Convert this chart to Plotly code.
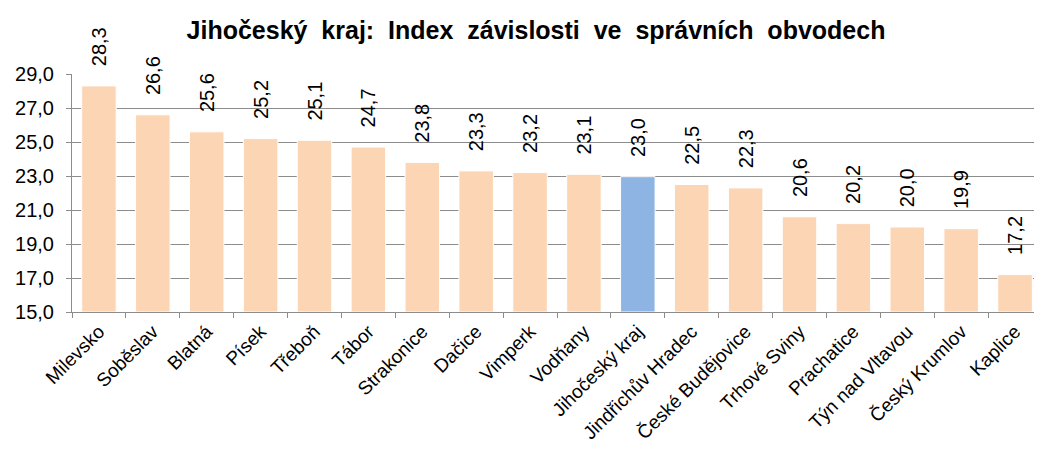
import plotly.graph_objects as go

categories = ["Milevsko", "Soběslav", "Blatná", "Písek", "Třeboň", "Tábor", "Strakonice",
              "Dačice", "Vimperk", "Vodňany", "Jihočeský kraj", "Jindřichův Hradec",
              "České Budějovice", "Trhové Sviny", "Prachatice", "Týn nad Vltavou",
              "Český Krumlov", "Kaplice"]
values = [28.3, 26.6, 25.6, 25.2, 25.1, 24.7, 23.8, 23.3, 23.2, 23.1, 22.96, 22.5, 22.3,
          20.6, 20.2, 20.0, 19.9, 17.2]
highlight = "Jihočeský kraj"
tick_vals = [15, 17, 19, 21, 23, 25, 27, 29]
baseline = 15
title_words = ["Jihočeský", "kraj:", "Index", "závislosti", "ve", "správních", "obvodech"]

colors = ["#8DB4E2" if c == highlight else "#FCD5B5" for c in categories]
labels = ["\u00a0\u00a0\u00a0" + f"{v:.1f}".replace(".", ",") for v in values]
FONT = "Arial, Liberation Sans, sans-serif"

fig = go.Figure(go.Bar(
    x=categories, y=[v - baseline for v in values], base=baseline,
    marker=dict(color=colors, line=dict(color="#FFFFFF", width=1)),
    width=0.64,
    text=labels, textposition="outside", textangle=-90,
    constraintext="none",
    textfont=dict(size=20, color="#000000", family=FONT),
    cliponaxis=False,
    hoverinfo="skip",
))

# page body has an 8px margin, so the figure is drawn 8px smaller and offset
fig.update_layout(
    width=1034, height=449,
    margin=dict(l=64, r=0, t=66, b=145, autoexpand=False),
    paper_bgcolor="white", plot_bgcolor="white",
    font=dict(family=FONT, size=20, color="#000000"),
    separators=",.",
    showlegend=False,
    uniformtext=dict(mode=False),
    title=dict(text="<b>" + "\u00a0\u00a0".join(title_words) + "</b>",
               x=(536 - 8) / 1034, xanchor="center", xref="container",
               y=1 - 22 / 449, yanchor="middle", yref="container",
               font=dict(size=25, color="#000000")),
)
fig.update_yaxes(range=[15, 29], tickvals=tick_vals, tickformat=".1f",
                 showgrid=True, gridcolor="#8C8C8C", gridwidth=1,
                 showline=True, linecolor="#8C8C8C", linewidth=1,
                 ticks="outside", ticklen=5, tickcolor="#8C8C8C",
                 ticklabelstandoff=8,
                 zeroline=False, tickfont=dict(size=20), automargin=False)
fig.update_xaxes(tickangle=-45, showline=True, linecolor="#8C8C8C", linewidth=1,
                 ticks="outside", ticklen=5, tickcolor="#8C8C8C", tickson="boundaries",
                 tickfont=dict(size=19), automargin=False)

fig.write_html("out.html")
